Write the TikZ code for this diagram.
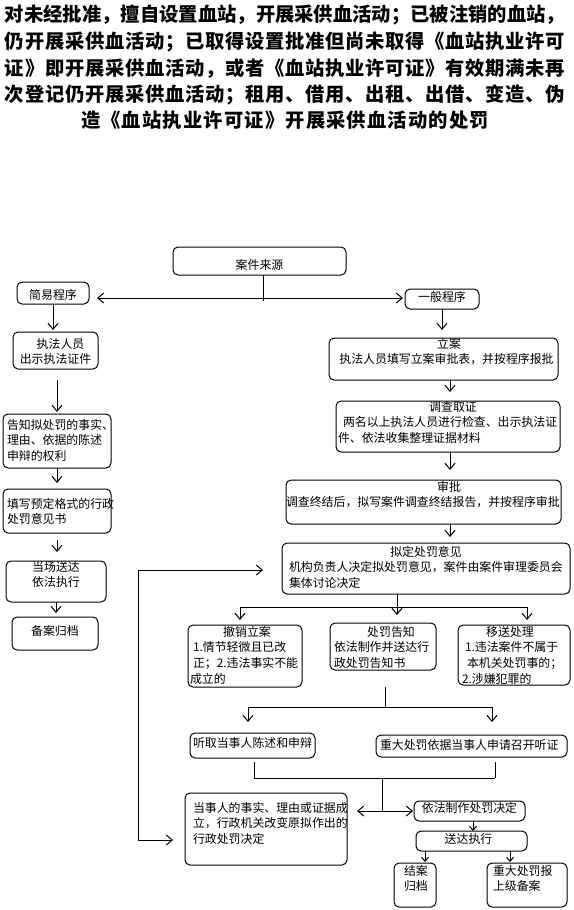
\documentclass[tikz,border=0pt]{standalone}
\usepackage{fontspec}
\setmainfont{Noto Sans CJK SC}
\usetikzlibrary{arrows.meta}
\makeatletter
\def\spr#1{\spr@#1\@nil}
\def\spr@#1#2\@nil{#1\if\relax\detokenize{#2}\relax\else\hfill\spr@#2\@nil\fi}
\makeatother
\newcommand\bxl[4]{\parbox[c][#2][t]{#1}{\vspace*{#3}\raggedright #4}}
\newcommand\bxc[4]{\parbox[c][#2][t]{#1}{\vspace*{#3}\centering #4}}
\newcommand\hd[2][0pt]{\makebox[\linewidth][c]{\hspace*{#1}#2}}
\tikzset{
  bxs/.style={draw, line width=1pt, rounded corners=5pt, inner sep=0pt, outer sep=0pt, font={\fontsize{11.9}{15.7}\selectfont}},
  ttl/.style={inner sep=0pt, font={\fontsize{19.3}{20}\selectfont\bfseries}},
  ln/.style={line width=1pt},
  arr/.style={ln, -{Straight Barb[length=6pt,width=10pt]}},
  dbl/.style={ln, {Straight Barb[length=6pt,width=10pt]}-{Straight Barb[length=6pt,width=10pt]}},
  sarr/.style={ln, -{Straight Barb[length=4pt,width=7pt]}}
}
\begin{document}
\begin{tikzpicture}[x=1pt,y=-1pt]
\fill[white] (0,0) rectangle (573,910);
\useasboundingbox (0,0) rectangle (573,910);
% title
\node[ttl] (t1) at (285,15) {\hbox to 560pt{\spr{对未经批准，擅自设置血站，开展采供血活动；已被注销的血站，}}};
\node[ttl] (t2) at (285,41.7) {\hbox to 560pt{\spr{仍开展采供血活动；已取得设置批准但尚未取得《血站执业许可}}};
\node[ttl] (t3) at (285,68.3) {\hbox to 560pt{\spr{证》即开展采供血活动，或者《血站执业许可证》有效期满未再}}};
\node[ttl] (t4) at (285,95) {\hbox to 560pt{\spr{次登记仍开展采供血活动；租用、借用、出租、出借、变造、伪}}};
\node[ttl] (t5) at (285,120) {\hbox to 408pt{\spr{造《血站执业许可证》开展采供血活动的处罚}}};
% boxes
\node[bxs] (src) at (259.5,261) {\bxc{173pt}{28pt}{12pt}{案件来源}};
\node[bxs] (jy) at (53,293) {\bxc{72pt}{22pt}{7pt}{简易程序}};
\node[bxs] (yb) at (442,299) {\bxc{74pt}{20pt}{2.1pt}{一般程序}};
\node[bxs] (zf) at (55.5,350.5) {\bxc{85pt}{37pt}{6.1pt}{\hspace*{10pt}执法人员\\[-0.7pt]出示执法证件}};
\node[bxs] (la) at (443.5,359) {\bxl{229pt}{42pt}{0.1pt}{\hd[11pt]{立案}\\\hd[6pt]{执法人员填写立案审批表，并按程序报批}}};
\node[bxs] (gz) at (57,441) {\bxl{108pt}{54pt}{5.1pt}{\hspace*{4pt}告知拟处罚的事实、\\\hspace*{4pt}理由、依据的陈述\\\hspace*{4pt}申辩的权利}};
\node[bxs] (dc) at (448,426.5) {\bxl{224pt}{51pt}{0.1pt}{\hd[10pt]{调查取证}\\\hspace*{7pt}两名以上执法人员进行检查、出示执法证\\\hspace*{2pt}件、依法收集整理证据材料}};
\node[bxs] (tx) at (57,511) {\bxl{108pt}{44pt}{9.1pt}{\hspace*{4pt}填写预定格式的行政\\\hspace*{4pt}处罚意见书}};
\node[bxs] (sp) at (423.5,502) {\bxl{275pt}{44pt}{1.1pt}{\hd[51pt]{审批}\\调查终结后，拟写案件调查终结报告，并按程序审批}};
\node[bxs] (dc2) at (56,581.5) {\bxc{100pt}{41pt}{0.1pt}{当场送达\\依法执行}};
\node[bxs] (nd) at (426,568.5) {\bxl{288pt}{51pt}{3.1pt}{\hd{拟定处罚意见}\\\hspace*{7pt}机构负责人决定拟处罚意见，案件由案件审理委员会\\\hspace*{7pt}集体讨论决定}};
\node[bxs] (ba) at (55,633.5) {\bxc{86pt}{33pt}{8.1pt}{备案归档}};
\node[bxs] (cx) at (245,656) {\bxl{114pt}{62pt}{1.1pt}{\hd[4pt]{撤销立案}\\\hspace*{5pt}1.情节轻微且已改\\\hspace*{5pt}正；2.违法事实不能\\\hspace*{2pt}成立的}};
\node[bxs] (cf) at (383,646.5) {\bxl{106pt}{47pt}{3.1pt}{\hd[16pt]{处罚告知}\\\hspace*{4pt}依法制作并送达行\\\hspace*{4pt}政处罚告知书}};
\node[bxs] (ys) at (514,655) {\bxl{112pt}{60pt}{1.1pt}{\hd[-8pt]{移送处理}\\\hspace*{7pt}1.违法案件不属于\\\hspace*{9pt}本机关处罚事的；\\\hspace*{4pt}2.涉嫌犯罪的}};
\node[bxs] (tq) at (252.5,745.5) {\bxl{125pt}{25pt}{4.1pt}{\hspace*{3pt}听取当事人陈述和申辩}};
\node[bxs] (zd) at (471.5,746) {\bxl{191pt}{22pt}{4.1pt}{\hspace*{4pt}重大处罚依据当事人申请召开听证}};
\node[bxs] (dsr) at (266,829) {\bxl{162pt}{72pt}{9.1pt}{\hspace*{8pt}当事人的事实、理由或证据成\\\hspace*{8pt}立，行政机关改变原拟作出的\\\hspace*{8pt}行政处罚决定}};
\node[bxs] (yf) at (469.5,811) {\bxc{111pt}{20pt}{1.6pt}{依法制作处罚决定}};
\node[bxs] (sd) at (471.5,841) {\bxc{111pt}{20pt}{2.1pt}{\hspace*{-6pt}送达执行}};
\node[bxs] (ja) at (415,885) {\bxl{42pt}{44pt}{2.1pt}{\hspace*{10pt}结案\\\hspace*{10pt}归档}};
\node[bxs] (zdb) at (527,885) {\bxl{80pt}{44pt}{2.1pt}{\hspace*{6pt}重大处罚报\\\hspace*{6pt}上级备案}};
% connectors
\coordinate (hs) at (263,298);
\coordinate (hs2) at (263,301);
\draw[ln] (src.south -| hs) -- (hs2);
\draw[dbl, shorten <=8pt, shorten >=2pt] (jy.east |- hs) -- (yb.west |- hs);
\draw[arr, shorten >=2pt] (jy.south) -- (jy.south |- zf.north);
\draw[arr, shorten <=11pt, shorten >=2pt] (gz.north |- zf.south) -- (gz.north);
\draw[arr, shorten >=6pt] (gz.south) -- (gz.south |- tx.north);
\draw[arr, shorten <=7pt, shorten >=9pt] (tx.south) -- (tx.south |- dc2.north);
\draw[arr, shorten >=4pt] (dc2.south) -- (dc2.south |- ba.north);
\draw[arr, shorten >=8pt] (yb.south) -- (yb.south |- la.north);
\coordinate (rx) at (450,0);
\draw[arr, shorten >=9pt] (rx |- la.south) -- (rx |- dc.north);
\draw[arr, shorten >=10pt] (rx |- dc.south) -- (rx |- sp.north);
\draw[arr, shorten >=6pt] (rx |- sp.south) -- (rx |- nd.north);
\coordinate (lp) at (138,570);
\coordinate (lb) at (138,840);
\draw[arr, shorten >=19pt] (lp) -- (lp -| nd.west);
\draw[arr, shorten >=12pt] (lp) -- (lb) -- (lb -| dsr.west);
\coordinate (bl) at (240,607);
\coordinate (br) at (527,607);
\coordinate (bm) at (397,607);
\draw[ln] (bl) -- (br);
\draw[arr, shorten >=5pt] (bl) -- (bl |- cx.north);
\draw[arr, shorten >=5pt] (br) -- (br |- ys.north);
\draw[arr, shorten >=8pt] (bm |- nd.south) -- (bm |- cf.north);
\coordinate (cl) at (248,707);
\coordinate (cr) at (492,707);
\coordinate (cm) at (385,707);
\draw[ln, shorten <=17pt] (cm |- cf.south) -- (cm);
\draw[ln] (cl) -- (cr);
\draw[arr, shorten >=11pt] (cl) -- (cl |- tq.north);
\draw[arr, shorten >=13pt] (cr) -- (cr |- zd.north);
\coordinate (ml) at (254,778);
\coordinate (mr) at (495,778);
\coordinate (mm) at (382,778);
\coordinate (dm) at (382,811);
\draw[ln, shorten <=4pt] (ml |- tq.south) -- (ml);
\draw[ln, shorten <=5pt] (mr |- zd.south) -- (mr);
\draw[ln] (ml) -- (mr);
\draw[ln] (mm) -- (dm);
\draw[dbl, shorten <=10pt, shorten >=1pt] (dsr.east |- dm) -- (yf.west |- dm);
\coordinate (fx) at (473,0);
\coordinate (jx) at (425,0);
\coordinate (kx) at (510,0);
\draw[sarr] (fx |- yf.south) -- (fx |- sd.north);
\draw[sarr, shorten >=1pt] (jx |- sd.south) -- (jx |- ja.north);
\draw[sarr, shorten >=1pt] (kx |- sd.south) -- (kx |- zdb.north);
\end{tikzpicture}
\end{document}
